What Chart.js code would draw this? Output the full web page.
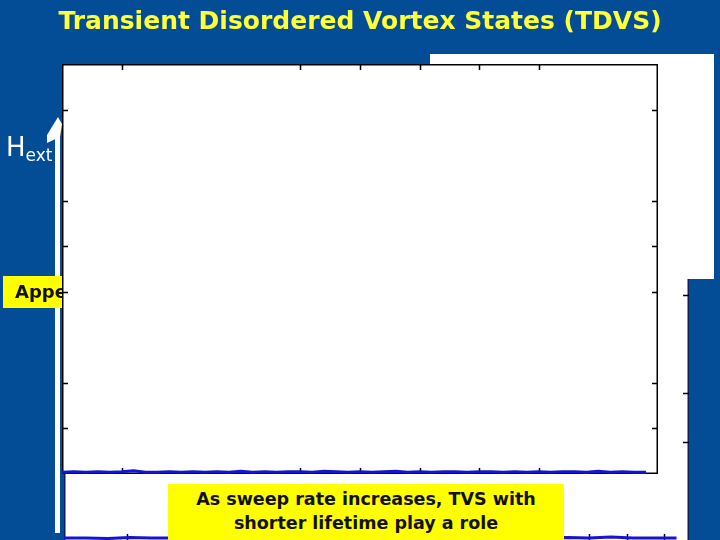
<!DOCTYPE html>
<html>
<head>
<meta charset="utf-8">
<script src="https://cdn.jsdelivr.net/npm/chart.js@4/dist/chart.umd.min.js"></script>
<style>
  html, body { margin: 0; padding: 0; }
  body { width: 720px; height: 540px; background: #034c96; position: relative; overflow: hidden;
         font-family: "Comic Sans MS", "DejaVu Sans", sans-serif; }
  .abs { position: absolute; }
  #title { left: 0; top: 6px; width: 720px; text-align: center; color: #ffff3a; font-size: 25px; font-weight: bold; z-index: 9; }
  #backWrap { left: 64px; top: 197px; width: 625px; height: 343px; z-index: 1; }
  #panel { left: 430px; top: 54px; width: 284px; height: 225px; background: #fff; z-index: 2; }
  #arrow { left: 0; top: 0; z-index: 3; }
  #appe { left: 3px; top: 276px; width: 59px; height: 32px; background: #ffff00; z-index: 4;
          font-weight: bold; font-size: 18px; line-height: 32px; padding-left: 12px; box-sizing: border-box;
          white-space: nowrap; overflow: hidden; color: #111; }
  #mainWrap { left: 62px; top: 64px; width: 596px; height: 410px; z-index: 5; }
  #hext { left: 6px; top: 132px; color: #fff; font-size: 26px; z-index: 6; }
  #hext sub { font-size: 17px; vertical-align: -5px; }
  #note { left: 168px; top: 484px; width: 396px; height: 56px; background: #ffff00; z-index: 8;
          text-align: center; font-weight: bold; font-size: 17.5px; line-height: 24px; color: #111; padding-top: 3px; box-sizing: border-box; }
</style>
</head>
<body>
<div id="title" class="abs">Transient Disordered Vortex States (TDVS)</div>
<div id="backWrap" class="abs"><canvas id="backChart"></canvas></div>
<div id="panel" class="abs"></div>
<svg id="arrow" class="abs" width="720" height="540">
  <rect x="55" y="124" width="5" height="409" fill="#fff"/>
  <polygon points="58,117 62,124 60,137 47,143 47,135" fill="#fff"/>
</svg>
<div id="appe" class="abs">Appe</div>
<div id="mainWrap" class="abs"><canvas id="mainChart"></canvas></div>
<div id="hext" class="abs">H<sub>ext</sub></div>
<div id="note" class="abs">As sweep rate increases, TVS with<br>shorter lifetime play a role</div>

<script>
// main panel: trace sitting on the bottom axis
const mainX = [0, 0.2, 0.4, 0.6, 0.8, 1, 1.2, 1.4, 1.6, 1.8, 2, 2.2, 2.4, 2.6, 2.8, 3, 3.2, 3.4,
               3.6, 3.8, 4, 4.2, 4.4, 4.6, 4.8, 5, 5.2, 5.4, 5.6, 5.8, 6, 6.2, 6.4, 6.6, 6.8, 7,
               7.2, 7.4, 7.6, 7.8, 8, 8.2, 8.4, 8.6, 8.8, 9, 9.2, 9.4, 9.6, 9.8];
const mainY = [0.04, 0.05, 0.04, 0.05, 0.04, 0.05, 0.07, 0.04, 0.04, 0.05, 0.04, 0.05, 0.04, 0.05,
               0.04, 0.06, 0.04, 0.05, 0.04, 0.05, 0.05, 0.04, 0.06, 0.05, 0.04, 0.05, 0.04, 0.05,
               0.06, 0.04, 0.05, 0.04, 0.05, 0.05, 0.04, 0.05, 0.05, 0.04, 0.05, 0.04, 0.05, 0.04,
               0.05, 0.05, 0.04, 0.06, 0.04, 0.05, 0.04, 0.04];
const mainXTicks = [1, 4, 5, 6, 7, 8];
const mainYTicks = [1, 2, 4, 5, 6, 8];

// panel behind it, only its lower right corner shows
const backX = [0, 3.5, 7, 10.5, 14, 17.5, 21, 24.5, 28, 31.5, 35, 38.5, 42, 45.5, 49, 52.5,
               56, 59.5, 63, 66.5, 70, 73.5, 77, 80.5, 84, 87.5, 91, 94.5, 98];
const backY = [0.04, 0.04, 0.03, 0.05, 0.04, 0.04, 0.04, 0.03, 0.04, 0.04, 0.05, 0.04, 0.04, 0.03,
               0.04, 0.04, 0.04, 0.05, 0.04, 0.04, 0.03, 0.04, 0.04, 0.05, 0.04, 0.06, 0.04, 0.04, 0.04];
const backXTicks = [10, 84, 90, 96];
const backYTicks = [2, 3, 5];

function toPoints(xs, ys) {
    return xs.map((x, i) => ({ x: x, y: ys[i] }));
}

// white plot box, frame and inward ticks drawn from the scales
const framePlugin = {
    id: 'frame',
    beforeDatasetsDraw(chart, args, opts) {
        const { ctx, chartArea: a, scales } = chart;
        ctx.save();
        ctx.fillStyle = '#fff';
        ctx.fillRect(a.left, a.top, a.right - a.left, a.bottom - a.top);
        ctx.strokeStyle = opts.color || '#000';
        ctx.lineWidth = 1.5;
        ctx.beginPath();
        if (opts.sides.includes('t')) { ctx.moveTo(a.left, a.top + 0.75); ctx.lineTo(a.right, a.top + 0.75); }
        if (opts.sides.includes('b')) { ctx.moveTo(a.left, a.bottom - 0.75); ctx.lineTo(a.right, a.bottom - 0.75); }
        if (opts.sides.includes('l')) { ctx.moveTo(a.left + 0.75, a.top); ctx.lineTo(a.left + 0.75, a.bottom); }
        if (opts.sides.includes('r')) { ctx.moveTo(a.right - 0.75, a.top); ctx.lineTo(a.right - 0.75, a.bottom); }
        ctx.stroke();
        ctx.strokeStyle = '#000';
        ctx.beginPath();
        opts.xTicks.forEach(v => {
            const px = Math.round(scales.x.getPixelForValue(v)) + 0.5;
            if (opts.sides.includes('t')) { ctx.moveTo(px, a.top); ctx.lineTo(px, a.top + 6); }
            ctx.moveTo(px, a.bottom); ctx.lineTo(px, a.bottom - 6);
        });
        opts.yTicks.forEach(v => {
            const py = Math.round(scales.y.getPixelForValue(v)) + 0.5;
            if (opts.sides.includes('l')) { ctx.moveTo(a.left, py); ctx.lineTo(a.left + 6, py); }
            ctx.moveTo(a.right, py); ctx.lineTo(a.right - 6, py);
        });
        ctx.stroke();
        ctx.restore();
    }
};

function makeChart(id, xs, ys, xMax, yMax, xTicks, yTicks, sides, color) {
    return new Chart(document.getElementById(id), {
        type: 'line',
        data: {
            datasets: [{
                data: toPoints(xs, ys),
                borderColor: '#1414d2',
                borderWidth: 3,
                pointRadius: 0,
                tension: 0,
                fill: false
            }]
        },
        options: {
            responsive: true,
            maintainAspectRatio: false,
            animation: false,
            layout: { padding: 0 },
            scales: {
                x: { type: 'linear', min: 0, max: xMax, display: false },
                y: { min: 0, max: yMax, display: false }
            },
            plugins: {
                legend: { display: false },
                tooltip: { enabled: false },
                frame: { xTicks: xTicks, yTicks: yTicks, sides: sides, color: color }
            }
        },
        plugins: [framePlugin]
    });
}

makeChart('backChart', backX, backY, 100, 7, backXTicks, backYTicks, 'lr', '#0d1f5c');
makeChart('mainChart', mainX, mainY, 10, 9, mainXTicks, mainYTicks, 'tblr', '#000');
</script>
</body>
</html>
